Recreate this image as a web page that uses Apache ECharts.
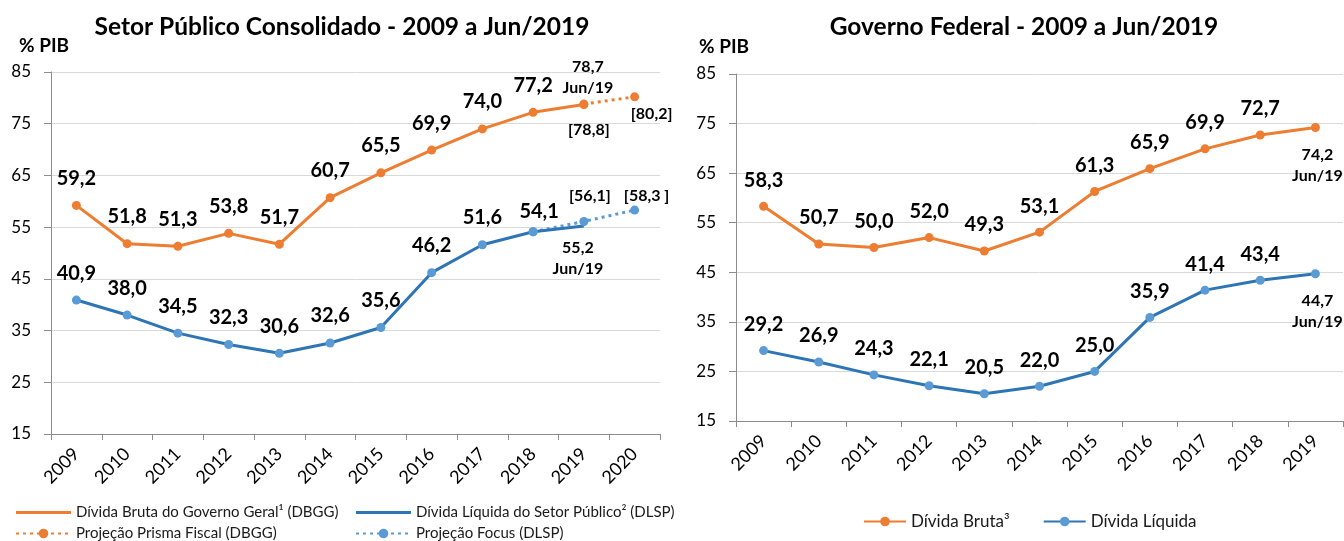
<!DOCTYPE html>
<html>
<head>
<meta charset="utf-8">
<script src="https://cdn.jsdelivr.net/npm/echarts@6/dist/echarts.min.js"></script>
<style>
html, body { margin: 0; padding: 0; background: #fff; }
#chart { width: 1344px; height: 541px; }
</style>
</head>
<body>
<div id="chart"></div>
<script>
// Setor Público Consolidado (% PIB)
const yearsSPC = ['2009', '2010', '2011', '2012', '2013', '2014', '2015', '2016', '2017', '2018', '2019', '2020'];
const dbgg = [59.2, 51.8, 51.3, 53.8, 51.7, 60.7, 65.5, 69.9, 74.0, 77.2, 78.7, null];
const dlsp = [40.9, 38.0, 34.5, 32.3, 30.6, 32.6, 35.6, 46.2, 51.6, 54.1, 55.2, null];
const prisma = [null, null, null, null, null, null, null, null, null, null, 78.8, 80.2];
const focus = [null, null, null, null, null, null, null, null, null, 54.1, 56.1, 58.3];

// Governo Federal (% PIB)
const yearsGF = ['2009', '2010', '2011', '2012', '2013', '2014', '2015', '2016', '2017', '2018', '2019'];
const brutaGF = [58.3, 50.7, 50.0, 52.0, 49.3, 53.1, 61.3, 65.9, 69.9, 72.7, 74.2];
const liquidaGF = [29.2, 26.9, 24.3, 22.1, 20.5, 22.0, 25.0, 35.9, 41.4, 43.4, 44.7];

const yTicks = [15, 25, 35, 45, 55, 65, 75, 85];

const ORANGE = '#ED7D31';
const BLUE_LINE = '#2E75B6';
const BLUE_DOT = '#5B9BD5';
const FONT = 'Lato';

const fmt = v => v.toFixed(1).replace('.', ',');

// small labels (Jun/19, projections)
function small(text, offset) {
    return { formatter: text, fontSize: 16, lineHeight: 21, offset: offset };
}

// build data items, with per-point label overrides
function points(values, overrides) {
    return values.map((v, i) => {
        if (v === null) return null;
        const item = { value: v };
        const o = overrides[i];
        if (o) Object.assign(item, o);
        return item;
    });
}

function lineSeries(name, values, color, dotColor, axis, opts) {
    return Object.assign({
        name: name,
        type: 'line',
        xAxisIndex: axis,
        yAxisIndex: axis,
        data: values,
        symbol: 'circle',
        symbolSize: 9,
        lineStyle: { color: color, width: 3 },
        itemStyle: { color: dotColor },
        label: {
            show: true,
            position: 'inside',
            offset: [0, axis === 0 ? -27 : -26],
            formatter: p => fmt(p.value),
            fontFamily: FONT,
            fontWeight: 'bold',
            fontSize: 20,
            color: '#000'
        },
        emphasis: { disabled: true },
        animation: false
    }, opts || {});
}

const axisGrey = '#8c8c8c';

function xAxis(idx, data) {
    return {
        type: 'category',
        gridIndex: idx,
        data: data,
        boundaryGap: true,
        axisLine: { lineStyle: { color: axisGrey, width: 1 } },
        axisTick: { show: true, length: 6, lineStyle: { color: axisGrey } },
        axisLabel: { rotate: 45, interval: 0, margin: 17, fontFamily: FONT, fontSize: 18, color: '#000' }
    };
}

function yAxis(idx) {
    return {
        type: 'value',
        gridIndex: idx,
        min: yTicks[0],
        max: yTicks[yTicks.length - 1],
        interval: yTicks[1] - yTicks[0],
        axisLine: { show: true, lineStyle: { color: axisGrey, width: 1 } },
        axisTick: { show: true, length: 7, lineStyle: { color: axisGrey } },
        splitLine: { lineStyle: { color: '#d9d9d9', width: 1 } },
        axisLabel: { margin: 20, fontFamily: FONT, fontSize: 17, color: '#000' }
    };
}

const titleStyle = { fontFamily: FONT, fontWeight: 'bold', fontSize: 24.5, color: '#000' };
const unitStyle = { fontFamily: FONT, fontWeight: 'bold', fontSize: 19, color: '#000' };
const legendText = { fontFamily: FONT, fontSize: 15, color: '#1a1a1a' };
const flatIcon = 'path://M0,0H55V3H0Z';

const chart = echarts.init(document.getElementById('chart'));

const option = {
    backgroundColor: '#fff',
    title: [
        { text: 'Setor Público Consolidado - 2009 a Jun/2019', left: 342, top: 15, textAlign: 'center', padding: 0, textStyle: titleStyle },
        { text: 'Governo Federal - 2009 a Jun/2019', left: 1024, top: 15, textAlign: 'center', padding: 0, textStyle: titleStyle },
        { text: '% PIB', left: 19, top: 36, padding: 0, textStyle: unitStyle },
        { text: '% PIB', left: 699, top: 37, padding: 0, textStyle: unitStyle }
    ],
    grid: [
        { left: 51, top: 72, width: 609, height: 362 },
        { left: 736, top: 74, width: 607, height: 347 }
    ],
    xAxis: [xAxis(0, yearsSPC), xAxis(1, yearsGF)],
    yAxis: [yAxis(0), yAxis(1)],
    legend: [
        {
            orient: 'vertical', left: 15, top: 505, height: 50, padding: 0, itemWidth: 55, itemHeight: 12, itemGap: 6,
            textStyle: legendText, selectedMode: false,
            data: [
                { name: 'Dívida Bruta do Governo Geral¹ (DBGG)', icon: flatIcon },
                { name: 'Projeção Prisma Fiscal (DBGG)' }
            ]
        },
        {
            orient: 'vertical', left: 355, top: 505, height: 50, padding: 0, itemWidth: 55, itemHeight: 12, itemGap: 6,
            textStyle: legendText, selectedMode: false,
            data: [
                { name: 'Dívida Líquida do Setor Público² (DLSP)', icon: flatIcon, itemStyle: { color: BLUE_LINE } },
                { name: 'Projeção Focus (DLSP)' }
            ]
        },
        {
            orient: 'horizontal', left: 863, top: 513, padding: 0, itemWidth: 42, itemHeight: 12, itemGap: 33,
            textStyle: { fontFamily: FONT, fontSize: 17, color: '#1a1a1a' }, selectedMode: false,
            data: ['Dívida Bruta³', 'Dívida Líquida']
        }
    ],
    series: [
        lineSeries('Projeção Prisma Fiscal (DBGG)', points(prisma, {
            10: { label: small('[78,8]', [5, 26]) },
            11: { label: small('[80,2]', [17, 17]) }
        }), ORANGE, ORANGE, 0, { lineStyle: { color: ORANGE, width: 3, type: [3, 4] } }),
        lineSeries('Projeção Focus (DLSP)', points(focus, {
            9: { label: { show: false } },
            10: { label: small('[56,1]', [6, -26]) },
            11: { label: small('[58,3 ]', [12, -14]) }
        }), BLUE_DOT, BLUE_DOT, 0, { lineStyle: { color: BLUE_DOT, width: 3, type: [3, 4] } }),
        lineSeries('Dívida Bruta do Governo Geral¹ (DBGG)', points(dbgg, {
            10: { label: small('78,7\nJun/19', [4, -27]) }
        }), ORANGE, ORANGE, 0),
        lineSeries('Dívida Líquida do Setor Público² (DLSP)', points(dlsp, {
            9: { label: { offset: [6, -20] } },
            10: { symbolSize: 1, label: small('55,2\nJun/19', [-6, 32]) }
        }), BLUE_LINE, BLUE_DOT, 0),
        lineSeries('Dívida Bruta³', points(brutaGF, {
            10: { label: small('74,2\nJun/19', [2, 38]) }
        }), ORANGE, ORANGE, 1),
        lineSeries('Dívida Líquida', points(liquidaGF, {
            10: { label: small('44,7\nJun/19', [2, 38]) }
        }), BLUE_LINE, BLUE_DOT, 1)
    ]
};

chart.setOption(option);
</script>
</body>
</html>
